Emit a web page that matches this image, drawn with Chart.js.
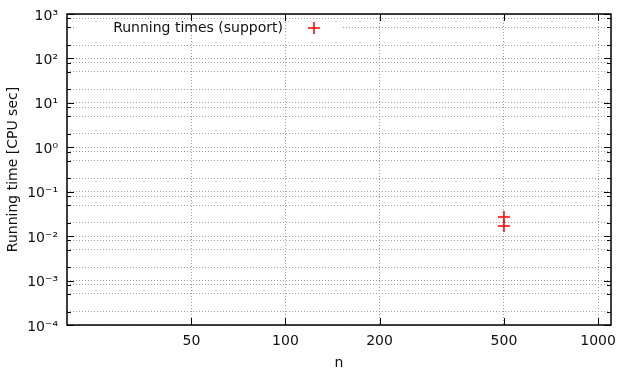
<!DOCTYPE html>
<html><head><meta charset="utf-8">
<script src="https://cdn.jsdelivr.net/npm/chart.js@4/dist/chart.umd.min.js"></script>
<style>html,body{margin:0;padding:0;background:#fff}#wrap{width:620px;height:372px}</style>
</head><body><div id="wrap"><canvas id="c" width="620" height="372"></canvas></div>
<script>
// ---- data ----
const seriesName = "Running times (support)";
const nValues = [500, 500];
const timeValues = [0.027, 0.017];
const xTickValues = [50, 100, 200, 500, 1000];
const yDecades = [1e-4, 1e-3, 1e-2, 1e-1, 1e0, 1e1, 1e2, 1e3];
const yMinorFactors = [2, 5, 8];
const xTitle = "n";
const yTitle = "Running time [CPU sec]";

// ---- helpers ----
const SUP = {'-':'\u207B','0':'\u2070','1':'\u00B9','2':'\u00B2','3':'\u00B3','4':'\u2074','5':'\u2075','6':'\u2076','7':'\u2077','8':'\u2078','9':'\u2079'};
function expLabel(v){
  const e = Math.round(Math.log10(v));
  return '10' + String(e).split('').map(c => SUP[c]).join('');
}
function isDecade(v){
  const l = Math.log10(v);
  return Math.abs(l - Math.round(l)) < 1e-9;
}
const yTickValues = [];
yDecades.forEach(d => {
  yTickValues.push(d);
  yMinorFactors.forEach(f => { const v = d * f; if (v <= yDecades[yDecades.length-1]) yTickValues.push(v); });
});
yTickValues.sort((a,b)=>a-b);

const FONT = "'DejaVu Sans', sans-serif";
const TXT = '#111';
const GRID = '#a0a0a0';
const DASH = [1,2];

const framePlugin = {
  id: 'frame',
  afterDraw(chart){
    const {ctx, chartArea:a, scales} = chart;
    const x = scales.x, y = scales.y;
    ctx.save();
    ctx.strokeStyle = '#000';
    ctx.lineWidth = 1;
    ctx.beginPath();
    yTickValues.forEach(v => {
      const py = Math.round(y.getPixelForValue(v)) + 0.5;
      const len = isDecade(v) ? 7 : 4;
      ctx.moveTo(a.left, py); ctx.lineTo(a.left + len, py);
      ctx.moveTo(a.right, py); ctx.lineTo(a.right - len, py);
    });
    xTickValues.forEach(v => {
      const px = Math.round(x.getPixelForValue(v)) + 0.5;
      ctx.moveTo(px, a.bottom); ctx.lineTo(px, a.bottom - 7);
      ctx.moveTo(px, a.top); ctx.lineTo(px, a.top + 7);
    });
    ctx.stroke();
    ctx.lineWidth = 1.5;
    ctx.strokeRect(a.left, a.top, a.right - a.left, a.bottom - a.top);
    ctx.restore();
  }
};

const legendPlugin = {
  id: 'insideLegend',
  beforeDatasetsDraw(chart){
    const {ctx, chartArea:a, scales} = chart;
    const x = scales.x;
    const ly = 28;
    ctx.save();
    ctx.fillStyle = '#fff';
    ctx.fillRect(a.left + 8, ly - 6, 343 - (a.left + 8), 12);
    ctx.strokeStyle = GRID; ctx.lineWidth = 1; ctx.setLineDash(DASH);
    ctx.beginPath();
    xTickValues.forEach(v => {
      const px = Math.round(x.getPixelForValue(v)) + 0.5;
      if (px > a.left + 8 && px < 343) { ctx.moveTo(px, ly - 6); ctx.lineTo(px, ly + 6); }
    });
    ctx.stroke();
    ctx.setLineDash([]);
    ctx.font = '14px ' + FONT;
    ctx.fillStyle = TXT;
    ctx.textAlign = 'right';
    ctx.textBaseline = 'middle';
    ctx.fillText(seriesName, 283, ly);
    ctx.strokeStyle = '#ff0000'; ctx.lineWidth = 1.5;
    ctx.beginPath();
    ctx.moveTo(308, ly); ctx.lineTo(320, ly);
    ctx.moveTo(314, ly - 6); ctx.lineTo(314, ly + 6);
    ctx.stroke();
    ctx.restore();
  }
};

new Chart(document.getElementById('c'), {
  type: 'scatter',
  data: {
    datasets: [{
      label: seriesName,
      data: nValues.map((n, i) => ({x: n, y: timeValues[i]})),
      pointStyle: 'cross',
      pointRadius: 6,
      pointHoverRadius: 6,
      pointBorderWidth: 1.5,
      borderColor: '#ff0000',
      backgroundColor: '#ff0000'
    }]
  },
  options: {
    responsive: false,
    devicePixelRatio: 1,
    animation: false,
    events: [],
    layout: { padding: { left: 0, right: 9, top: 14, bottom: 0 } },
    plugins: { legend: { display: false }, tooltip: { enabled: false } },
    scales: {
      x: {
        type: 'logarithmic',
        min: 20, max: 1100,
        afterBuildTicks: s => { s.ticks = xTickValues.map(v => ({value: v})); },
        afterFit: s => { s.height = 47; s.paddingLeft = 0; s.paddingRight = 0; },
        grid: { color: GRID, lineWidth: 1, drawTicks: false },
        border: { display: false, dash: DASH },
        ticks: {
          autoSkip: false, maxRotation: 0, padding: 8,
          color: TXT, font: { family: FONT, size: 14 },
          callback: v => String(v)
        },
        title: { display: true, text: xTitle, color: TXT, font: { family: FONT, size: 14 }, padding: { top: 0, bottom: 0 } }
      },
      y: {
        type: 'logarithmic',
        min: 1e-4, max: 1e3,
        afterBuildTicks: s => { s.ticks = yTickValues.map(v => ({value: v})); },
        afterFit: s => { s.width = 67; s.paddingTop = 0; s.paddingBottom = 0; },
        grid: { color: GRID, lineWidth: 1, drawTicks: false },
        border: { display: false, dash: DASH },
        ticks: {
          autoSkip: false, padding: 9, labelOffset: 2,
          color: TXT, font: { family: FONT, size: 14 },
          callback: v => isDecade(v) ? expLabel(v) : ''
        },
        title: { display: true, text: yTitle, color: TXT, font: { family: FONT, size: 14 }, padding: { top: 5, bottom: 0 } }
      }
    }
  },
  plugins: [legendPlugin, framePlugin]
});
</script>
</body></html>
